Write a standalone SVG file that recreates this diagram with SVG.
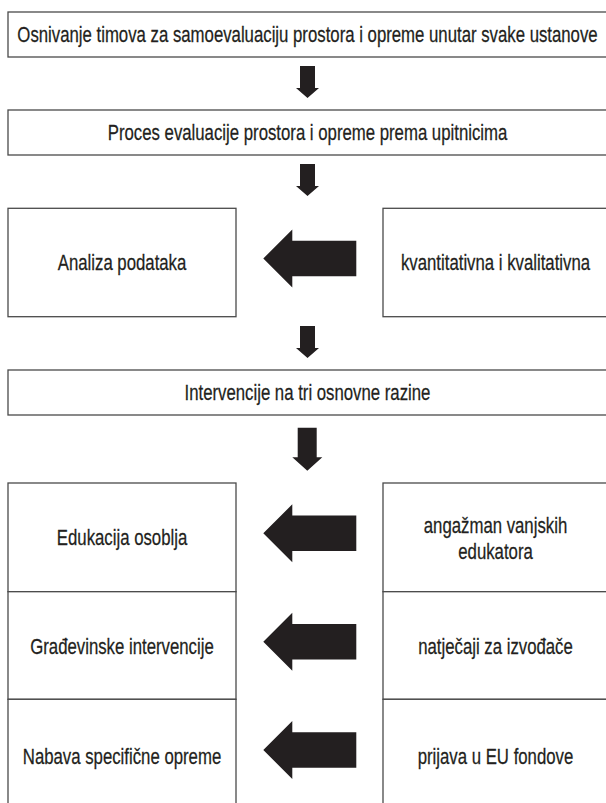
<svg xmlns="http://www.w3.org/2000/svg" xmlns:xlink="http://www.w3.org/1999/xlink" width="606" height="803" viewBox="0 0 606 803">
<style>
.box{fill:#ffffff;stroke:#4a4a4a;stroke-width:1.3}
.t{font-family:"Liberation Sans",Arial,sans-serif;font-size:21.5px;fill:#231f20;stroke:#231f20;stroke-width:0.25;text-anchor:middle;transform-box:fill-box;transform-origin:center;transform:scaleX(0.78)}
.arr{fill:#231f20;stroke:none}
</style>
<defs>
<path id="larr" d="M0,0 L29,-29 L29,-17.7 L93,-17.7 L93,17.7 L29,17.7 L29,29 Z"/>
<path id="dsmall" d="M-7.5,0 L7.5,0 L7.5,22 L11.5,22 L0,32 L-11.5,22 L-7.5,22 Z"/>
</defs>
<rect width="606" height="803" fill="#ffffff"/>
<g id="n1"><rect class="box" x="8" y="12" width="600" height="45"/><text class="t" x="307.5" y="42.5">Osnivanje timova za samoevaluaciju prostora i opreme unutar svake ustanove</text></g>
<g id="n2"><rect class="box" x="8" y="110" width="600" height="45"/><text class="t" x="307.5" y="140">Proces evaluacije prostora i opreme prema upitnicima</text></g>
<g id="n3"><rect class="box" x="8" y="208.3" width="228" height="108.4"/><text class="t" x="122" y="270">Analiza podataka</text></g>
<g id="n4"><rect class="box" x="383" y="208.3" width="225" height="108.4"/><text class="t" x="495.5" y="270">kvantitativna i kvalitativna</text></g>
<g id="n5"><rect class="box" x="8" y="370" width="600" height="45"/><text class="t" x="307.5" y="400">Intervencije na tri osnovne razine</text></g>
<g id="n6"><rect class="box" x="8" y="483" width="228" height="108.7"/><text class="t" x="122" y="545.5">Edukacija osoblja</text></g>
<g id="n7"><rect class="box" x="383" y="483" width="225" height="108.7"/><text class="t" x="495.5" y="533.5">angažman vanjskih</text><text class="t" x="495.5" y="559.5">edukatora</text></g>
<g id="n8"><rect class="box" x="8" y="591.7" width="228" height="107.6"/><text class="t" x="122" y="654.5">Građevinske intervencije</text></g>
<g id="n9"><rect class="box" x="383" y="591.7" width="225" height="107.6"/><text class="t" x="495.5" y="654.5">natječaji za izvođače</text></g>
<g id="n10"><rect class="box" x="8" y="699.3" width="228" height="110"/><text class="t" x="122" y="764.5">Nabava specifične opreme</text></g>
<g id="n11"><rect class="box" x="383" y="699.3" width="225" height="110"/><text class="t" x="495.5" y="764.5">prijava u EU fondove</text></g>
<g id="connectors" class="arr">
<use xlink:href="#dsmall" href="#dsmall" transform="translate(307.5,66)"/>
<use xlink:href="#dsmall" href="#dsmall" transform="translate(307.5,164)"/>
<use xlink:href="#dsmall" href="#dsmall" transform="translate(307.5,326)"/>
<path d="M297.7,427.7 L316.7,427.7 L316.7,457.3 L322.3,457.3 L307.3,470.7 L292.3,457.3 L297.7,457.3 Z"/>
<use xlink:href="#larr" href="#larr" transform="translate(263.3,258.5)"/>
<use xlink:href="#larr" href="#larr" transform="translate(263.3,533.3)"/>
<use xlink:href="#larr" href="#larr" transform="translate(263.3,641.7)"/>
<use xlink:href="#larr" href="#larr" transform="translate(263.3,750)"/>
</g>
</svg>
